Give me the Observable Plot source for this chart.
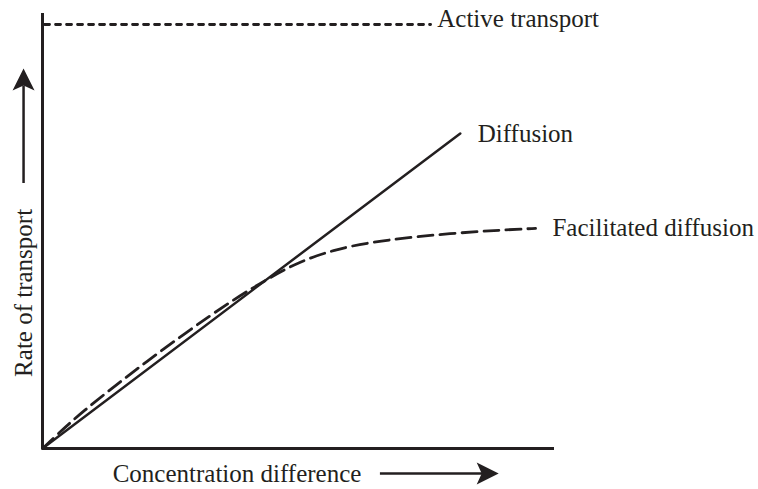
<!DOCTYPE html>
<html>
<head>
<meta charset="utf-8">
<script src="https://cdn.jsdelivr.net/npm/d3@7"></script>
<script src="https://cdn.jsdelivr.net/npm/@observablehq/plot@0.6"></script>
<style>
  html, body { margin: 0; padding: 0; background: #fff; }
  #chart svg { display: block; }
</style>
</head>
<body>
<div id="chart"></div>
<script>
const seriesNames = ["Active transport", "Diffusion", "Facilitated diffusion"];

// Active transport: constant maximal rate
const activeX = [0.4, 75.8];
const activeRate = [100, 100];

// Diffusion: straight line from origin
const diffusionX = [0, 81.6];
const diffusionRate = [0, 74.3];

// Facilitated diffusion: saturating curve
const facilitatedX = [0, 2.9, 7.4, 17.2, 28.3, 37.0, 44.5, 50.4, 56.8, 63.5, 76.4, 92.0, 96.3];
const facilitatedRate = [0, 3.3, 8.3, 17.7, 27.6, 34.9, 40.4, 44.2, 46.8, 48.6, 50.5, 51.7, 51.9];

// label anchor positions (data units)
const labelX = [77.1, 85.0, 99.6];
const labelY = [101.2, 74.1, 51.9];

const xTitle = "Concentration difference";
const yTitle = "Rate of transport";

// ---- build tables ----
const active = activeX.map((x, i) => ({x, y: activeRate[i]}));
const diffusion = diffusionX.map((x, i) => ({x, y: diffusionRate[i]}));
const facilitated = facilitatedX.map((x, i) => ({x, y: facilitatedRate[i]}));
const labels = seriesNames.map((name, i) => ({name, x: labelX[i], y: labelY[i]}));

const ink = "#231f20";
const font = "'Liberation Serif', 'DejaVu Serif', serif";

// filled arrowhead pointing up, tip at origin
const arrowHead = {
  draw(context) {
    context.moveTo(0, 0);
    context.lineTo(11, 22);
    context.lineTo(0, 17);
    context.lineTo(-11, 22);
    context.closePath();
  }
};

const chart = Plot.plot({
  width: 758,
  height: 489,
  marginLeft: 42,
  marginRight: 204,
  marginTop: 24,
  marginBottom: 41,
  x: {domain: [0, 100], axis: null},
  y: {domain: [0, 100], axis: null},
  style: {fontFamily: font, color: ink, background: "#fff", overflow: "visible"},
  marks: [
    // axes frame
    Plot.ruleX([0], {y1: 0, y2: 102.6, stroke: ink, strokeWidth: 3, clip: false}),
    Plot.ruleY([0], {x1: 0, x2: 100, stroke: ink, strokeWidth: 3, clip: false}),
    // active transport (dotted)
    Plot.line(active, {x: "x", y: "y", stroke: ink, strokeWidth: 2.8, strokeDasharray: "5,6"}),
    // diffusion (solid)
    Plot.line(diffusion, {x: "x", y: "y", stroke: ink, strokeWidth: 2.5}),
    // facilitated diffusion (dashed)
    Plot.line(facilitated, {x: "x", y: "y", stroke: ink, strokeWidth: 2.8, strokeDasharray: "15,7", curve: "basis"}),
    // series labels
    Plot.text(labels, {x: "x", y: "y", text: "name", textAnchor: "start", fontSize: 25, fill: ink, clip: false}),
    // x title + arrow
    Plot.text([xTitle], {x: 13.7, y: -6.1, text: d => d, textAnchor: "start", fontSize: 25, fill: ink, clip: false}),
    Plot.ruleY([-5.9], {x1: 66.0, x2: 86.5, stroke: ink, strokeWidth: 2.5, clip: false}),
    Plot.dot([0], {x: 89.1, y: -5.9, symbol: arrowHead, rotate: 90, fill: ink, stroke: null, clip: false}),
    // y title + arrow
    Plot.text([yTitle], {x: -3.7, y: 36.7, text: d => d, rotate: -90, textAnchor: "middle", fontSize: 25, fill: ink, clip: false}),
    Plot.ruleX([-3.7], {y1: 62.5, y2: 85.5, stroke: ink, strokeWidth: 2.5, clip: false}),
    Plot.dot([0], {x: -3.7, y: 89.6, symbol: arrowHead, fill: ink, stroke: null, clip: false})
  ]
});

document.getElementById("chart").append(chart);
</script>
</body>
</html>
